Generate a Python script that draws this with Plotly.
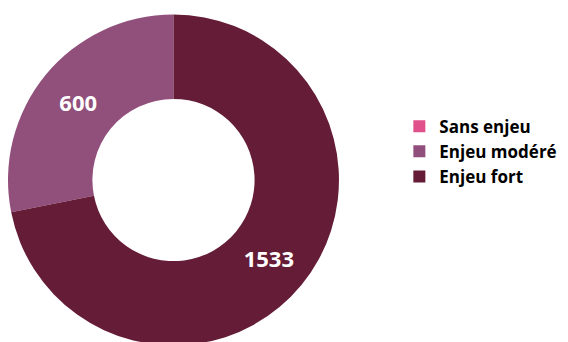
import plotly.graph_objects as go

# Données
categories = ["Sans enjeu", "Enjeu modéré", "Enjeu fort"]
valeurs = [0, 600, 1533]
couleurs = ["#E0508A", "#914F7C", "#651C36"]

fig = go.Figure()

fig.add_trace(go.Pie(
    labels=categories,
    values=valeurs,
    hole=0.49,
    sort=False,
    direction="counterclockwise",
    marker=dict(colors=couleurs, line=dict(width=0)),
    textinfo="value",
    textposition="inside",
    insidetextorientation="horizontal",
    textfont=dict(family="Open Sans", size=22, color="white", weight=700),
    domain=dict(x=[0.0, 0.5827], y=[0.013, 0.981]),
    hoverinfo="label+value",
))

fig.update_layout(
    width=568,
    height=342,
    margin=dict(l=0, r=0, t=0, b=0),
    paper_bgcolor="white",
    plot_bgcolor="white",
    showlegend=True,
    legend=dict(
        x=0.689, y=0.58, xanchor="left", yanchor="middle",
        font=dict(family="Open Sans", size=17, color="black", weight=700),
        traceorder="normal",
    ),
)

fig.write_html("out.html")
